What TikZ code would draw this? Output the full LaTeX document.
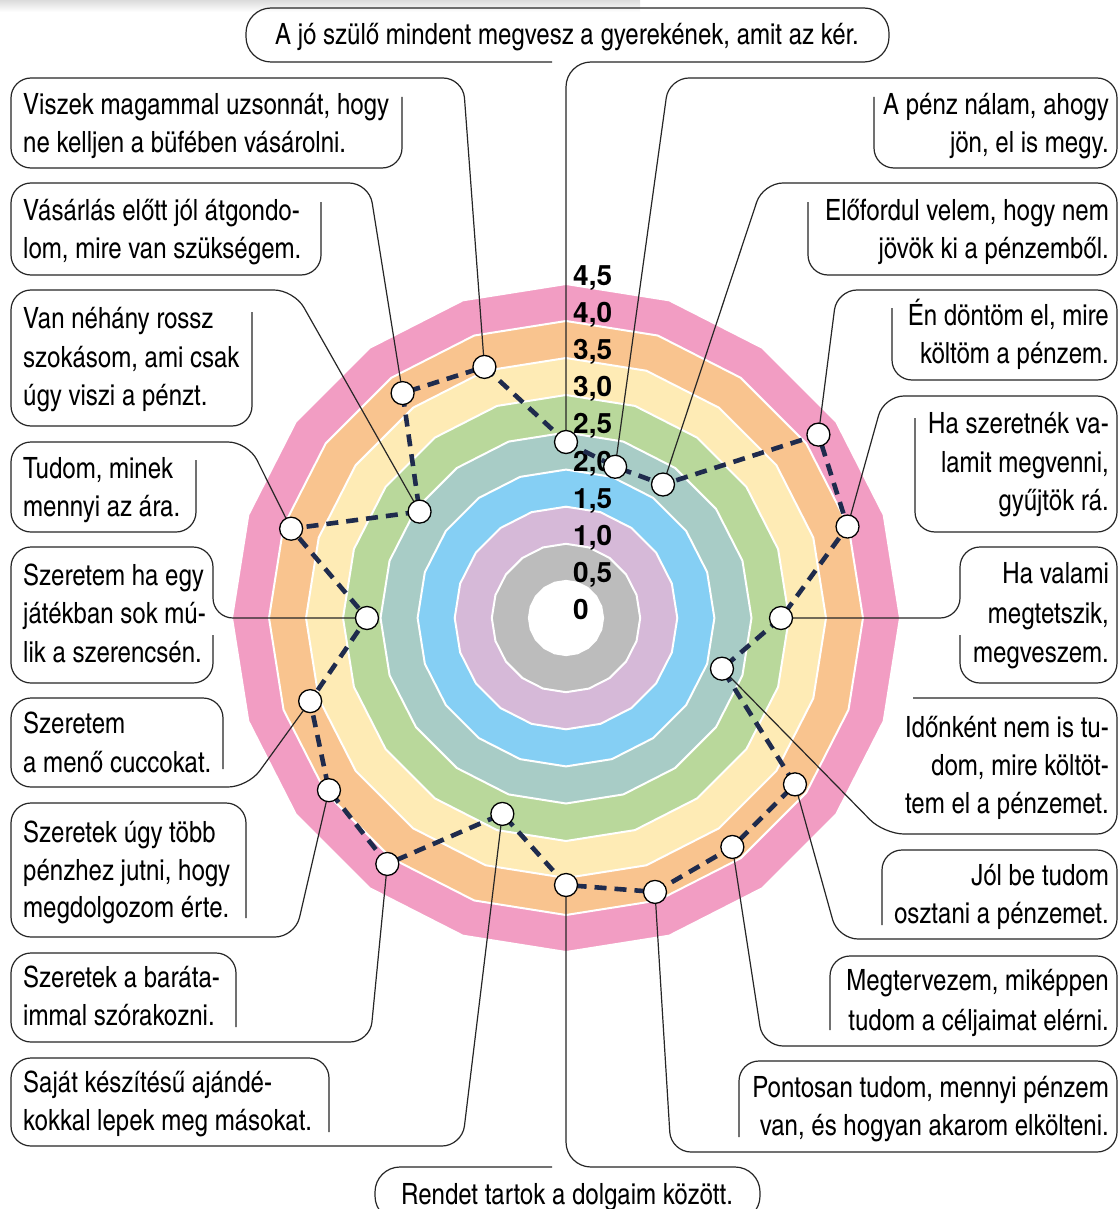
\documentclass[tikz,border=0pt]{standalone}
\usepackage{fontspec}
\setmainfont{texgyreheroscn}[Extension=.otf, UprightFont=*-regular, BoldFont=*-bold]
\newfontfamily\numfont{texgyreheros}[Extension=.otf, UprightFont=*-regular, BoldFont=*-bold]
\newcommand\lblfont{\fontsize{29.3}{34}\selectfont}
\definecolor{cpink}{RGB}{242,157,195}
\definecolor{corange}{RGB}{249,196,143}
\definecolor{cyellow}{RGB}{254,235,181}
\definecolor{cgreen}{RGB}{185,216,155}
\definecolor{cteal}{RGB}{168,204,198}
\definecolor{cblue}{RGB}{133,207,244}
\definecolor{cpurple}{RGB}{214,185,216}
\definecolor{cgray}{RGB}{188,188,188}
\definecolor{cnavy}{RGB}{31,43,77}
\begin{document}
\begin{tikzpicture}[x=1pt,y=-1pt,
  lead/.style={line width=1.2pt, draw=black!85, rounded corners=20pt},
  leadbig/.style={line width=1.2pt, draw=black!85, rounded corners=25pt},
  lt/.style={anchor=base west, inner sep=0pt, font=\lblfont},
  rt/.style={anchor=base east, inner sep=0pt, font=\lblfont},
  ct/.style={anchor=base, inner sep=0pt, font=\lblfont},
  vallbl/.style={anchor=base west, inner sep=0pt, font={\numfont\bfseries\fontsize{28}{28}\selectfont}},
  dot/.style={circle, fill=white, draw=black, line width=1.3pt, minimum size=23pt, inner sep=0pt},
  dashline/.style={draw=cnavy, line width=4.6pt, dash pattern=on 12pt off 8pt}]
\useasboundingbox (0,0) rectangle (1118,1209);
\clip (0,0) rectangle (1118,1209);
\fill[white] (0,0) rectangle (1118,1209);
\shade[top color=black!14, bottom color=white] (0,0) rectangle (640,12);

% rings
\begin{scope}[shift={(566,618)}]
\foreach \r/\c in {334/cpink, 297/corange, 260/cyellow, 223/cgreen, 185.5/cteal, 148.4/cblue, 111.3/cpurple, 74.2/cgray, 37.1/white}{
  \filldraw[fill=\c, draw=white, line width=2pt] (-90:\r) \foreach \k in {1,...,19}{ -- ({18*\k-90}:\r) } -- cycle;
}
\foreach \k/\r in {0/176,1/159,2/165,3/312,4/296,5/215,6/164,7/283,8/283,9/288,10/267,11/206,12/304,13/293,14/269,15/199,16/289,17/181,18/278,19/264}{
  \coordinate (p\k) at ({18*\k-90}:\r);
}
\end{scope}

% value labels
\node[vallbl] (v0) at (573,619) {0};
\node[vallbl] (v1) at (573,582) {0,5};
\node[vallbl] (v2) at (573,545) {1,0};
\node[vallbl] (v3) at (573,508) {1,5};
\node[vallbl] (v4) at (573,471) {2,0};
\node[vallbl] (v5) at (573,433) {2,5};
\node[vallbl] (v6) at (573,396) {3,0};
\node[vallbl] (v7) at (573,359) {3,5};
\node[vallbl] (v8) at (573,322) {4,0};
\node[vallbl] (v9) at (573,285) {4,5};

% boxes and leaders
\draw[leadbig] (552,62) -- (246,62) -- (246,8) -- (889,8) -- (889,62) -- (566,62) -- (p0);
\draw[leadbig] (552,1167) -- (375,1167) -- (375,1221) -- (760,1221) -- (760,1167) -- (566,1167) -- (p10);
% left column
\draw[lead] (402,97) -- (402,168) -- (11,168) -- (11,78) -- (463,78) -- (p19);
\draw[lead] (321,202) -- (321,275) -- (11,275) -- (11,183) -- (369,183) -- (p18);
\draw[lead] (252,312) -- (252,426) -- (11,426) -- (11,290) -- (294,290) -- (p17);
\draw[lead] (196,460) -- (196,532) -- (11,532) -- (11,442) -- (248,442) -- (p16);
\draw[lead] (213,635) -- (213,683) -- (11,683) -- (11,547) -- (213,547) -- (213,618) -- (p15);
\draw[lead] (223,769) -- (223,698) -- (11,698) -- (11,787) -- (248,787) -- (p14);
\draw[lead] (246,918) -- (246,803) -- (11,803) -- (11,937) -- (295,937) -- (p13);
\draw[lead] (236,1027) -- (236,953) -- (11,953) -- (11,1042) -- (370,1042) -- (p12);
\draw[lead] (329,1132) -- (329,1058) -- (11,1058) -- (11,1146) -- (462,1146) -- (p11);
% right column
\draw[lead] (874,97) -- (874,168) -- (1117,168) -- (1117,78) -- (669,78) -- (p1);
\draw[lead] (808,202) -- (808,275) -- (1117,275) -- (1117,183) -- (763,183) -- (p2);
\draw[lead] (892,308) -- (892,380) -- (1117,380) -- (1117,290) -- (837,290) -- (p3);
\draw[lead] (915,418) -- (915,532) -- (1117,532) -- (1117,396) -- (884,396) -- (p4);
\draw[lead] (960,635) -- (960,683) -- (1117,683) -- (1117,547) -- (960,547) -- (960,618) -- (p5);
\draw[lead] (913,698) -- (1117,698) -- (1117,834) -- (884,834) -- (p6);
\draw[lead] (882,925) -- (882,850) -- (1117,850) -- (1117,939) -- (838,939) -- (p7);
\draw[lead] (830,1030) -- (830,956) -- (1117,956) -- (1117,1046) -- (763,1046) -- (p8);
\draw[lead] (739,1137) -- (739,1061) -- (1117,1061) -- (1117,1152) -- (671,1152) -- (p9);

% data polygon
\draw[dashline] (p0) \foreach \k in {1,...,19}{ -- (p\k) } -- cycle;
\foreach \k in {0,...,19}{ \node[dot] (d\k) at (p\k) {}; }

% texts
\node[ct] (t0) at (567,45) {A jó szülő mindent megvesz a gyerekének, amit az kér.};
\node[ct] (t10) at (567,1204) {Rendet tartok a dolgaim között.};

\node[lt] (t19a) at (23,115) {Viszek magammal uzsonnát, hogy};
\node[lt] (t19b) at (23,153) {ne kelljen a büfében vásárolni.};
\node[lt] (t18a) at (23,220) {Vásárlás előtt jól átgondo-};
\node[lt] (t18b) at (23,258) {lom, mire van szükségem.};
\node[lt] (t17a) at (23,328) {Van néhány rossz};
\node[lt] (t17b) at (23,367) {szokásom, ami csak};
\node[lt] (t17c) at (23,405) {úgy viszi a pénzt.};
\node[lt] (t16a) at (23,478) {Tudom, minek};
\node[lt] (t16b) at (23,516) {mennyi az ára.};
\node[lt] (t15a) at (23,585) {Szeretem ha egy};
\node[lt] (t15b) at (23,623) {játékban sok mú-};
\node[lt] (t15c) at (23,662) {lik a szerencsén.};
\node[lt] (t14a) at (23,733) {Szeretem};
\node[lt] (t14b) at (23,772) {a menő cuccokat.};
\node[lt] (t13a) at (23,842) {Szeretek úgy több};
\node[lt] (t13b) at (23,880) {pénzhez jutni, hogy};
\node[lt] (t13c) at (23,917) {megdolgozom érte.};
\node[lt] (t12a) at (23,987) {Szeretek a baráta-};
\node[lt] (t12b) at (23,1025) {immal szórakozni.};
\node[lt] (t11a) at (23,1092) {Saját készítésű ajándé-};
\node[lt] (t11b) at (23,1130) {kokkal lepek meg másokat.};

\node[rt] (t1a) at (1109,115) {A pénz nálam, ahogy};
\node[rt] (t1b) at (1109,153) {jön, el is megy.};
\node[rt] (t2a) at (1109,220) {Előfordul velem, hogy nem};
\node[rt] (t2b) at (1109,258) {jövök ki a pénzemből.};
\node[rt] (t3a) at (1109,325) {Én döntöm el, mire};
\node[rt] (t3b) at (1109,363) {költöm a pénzem.};
\node[rt] (t4a) at (1109,433) {Ha szeretnék va-};
\node[rt] (t4b) at (1109,472) {lamit megvenni,};
\node[rt] (t4c) at (1109,510) {gyűjtök rá.};
\node[rt] (t5a) at (1109,583) {Ha valami};
\node[rt] (t5b) at (1109,623) {megtetszik,};
\node[rt] (t5c) at (1109,662) {megveszem.};
\node[rt] (t6a) at (1109,737) {Időnként nem is tu-};
\node[rt] (t6b) at (1109,775) {dom, mire költöt-};
\node[rt] (t6c) at (1109,813) {tem el a pénzemet.};
\node[rt] (t7a) at (1109,885) {Jól be tudom};
\node[rt] (t7b) at (1109,923) {osztani a pénzemet.};
\node[rt] (t8a) at (1109,990) {Megtervezem, miképpen};
\node[rt] (t8b) at (1109,1030) {tudom a céljaimat elérni.};
\node[rt] (t9a) at (1109,1097) {Pontosan tudom, mennyi pénzem};
\node[rt] (t9b) at (1109,1135) {van, és hogyan akarom elkölteni.};
\end{tikzpicture}
\end{document}
